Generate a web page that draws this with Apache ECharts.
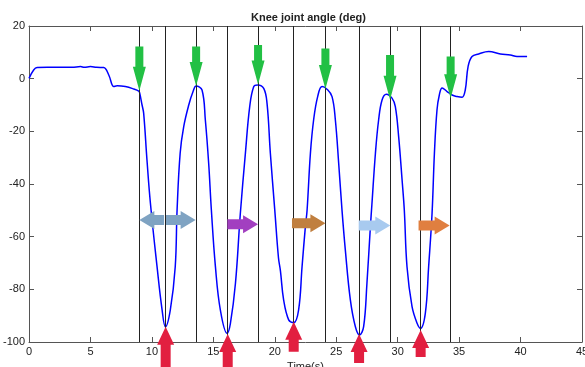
<!DOCTYPE html>
<html>
<head>
<meta charset="utf-8">
<script src="https://cdn.jsdelivr.net/npm/echarts@6/dist/echarts.min.js"></script>
<style>
html,body{margin:0;padding:0;background:#fff;}
#chart{width:585px;height:367px;}
</style>
</head>
<body>
<div id="chart"></div>
<script>
// ---- data ----
const timeValues = [0,0.38,0.66,1.5,2.5,3.5,4.2,4.5,5.0,5.5,6.08,6.49,6.9,7.17,7.84,8.52,8.93,9.0,9.2,9.33,9.6,9.88,10.42,10.83,11.1,11.5,11.9,12.05,12.3,12.59,13.0,13.35,13.6,14.08,14.35,14.62,14.84,15.17,15.57,16.12,16.39,16.8,17.2,17.61,17.96,18.29,18.6,19.1,19.37,19.64,20.0,20.3,20.46,20.72,21.13,21.54,21.94,22.22,22.49,22.63,22.9,23.16,23.49,23.85,24.25,24.66,24.93,25.2,25.47,25.74,26.15,26.56,26.9,27.23,27.5,27.78,27.9,28.19,28.45,28.73,29.08,29.54,29.81,30.08,30.36,30.54,30.76,31.17,31.58,31.85,32.25,32.52,32.8,32.99,33.2,33.39,33.62,34.02,34.43,34.83,35.24,35.5,35.73,36.05,36.59,37.41,38.36,39.17,39.71,40.53];
const angleValues = [0.1,3.3,4.2,4.3,4.3,4.3,4.6,4.3,4.6,4.3,4.2,1.4,-3.0,-2.7,-3.0,-3.9,-4.7,-5.3,-10,-13.1,-30.9,-47.3,-71.4,-87.8,-94.2,-87.8,-71.4,-49.9,-28.3,-18.2,-10,-4.9,-2.8,-4.3,-15.7,-32.1,-49.9,-71.4,-87.8,-96.7,-92.9,-77.7,-51,-28.3,-10.6,-3.0,-2.4,-3.7,-9.4,-28.3,-49.9,-68,-73,-84,-91.6,-92.7,-87.8,-71.4,-56.2,-49.9,-28.3,-15.7,-6.8,-3.0,-4.0,-6.8,-15.7,-32.1,-49.9,-65,-84,-94.2,-97.3,-94.2,-77.7,-56.2,-48,-28.3,-15.7,-8.1,-5.9,-7.4,-10.6,-22,-38.5,-49.9,-71.4,-86.6,-92.9,-94.8,-89.1,-71.4,-51,-28.3,-11.9,-6.2,-3.5,-4.9,-6.2,-6.8,-7.1,-4.3,4.6,8.4,9.4,10.3,9.4,9.0,8.4,8.4];
const eventLines = [8.98,11.12,13.60,16.17,18.64,21.54,24.12,26.86,29.38,31.87,34.31];
// green arrows (peaks): time, tip angle, tail angle
const peakArrowX = [8.98,13.60,18.64,24.12,29.38,34.31];
const peakArrowTip = [-4.6,-2.8,-2.2,-3.9,-8.0,-7.4];
const peakArrowTail = [12.2,12.2,12.8,11.5,9.0,8.4];
// red arrows (minima): time, tip angle, tail angle
const minArrowX = [11.12,16.17,21.54,26.86,31.87];
const minArrowTip = [-94.2,-97.0,-92.3,-97.0,-95.4];
const minArrowTail = [-112,-112,-103.7,-108,-105.7];
// horizontal arrows: tail time, tip time, angle
const hArrowTail = [10.99,11.15,16.14,21.40,26.83,31.70];
const hArrowTip = [8.98,13.56,18.64,24.12,29.40,34.23];
const hArrowY = [-53.7,-53.7,-55.3,-54.9,-55.8,-55.8];
const xTicks = {min:0,max:45,interval:5};
const yTicks = {min:-100,max:20,interval:20};

// ---- styles ----
const hArrowColors = ['#7fa3c2','#7fa3c2','#a23fc0','#c07f3f','#a8caef','#e07f40'];
const FONT = 'Liberation Sans, Arial, sans-serif';

const chart = echarts.init(document.getElementById('chart'));

const lineData = timeValues.map((t,i)=>[t, angleValues[i]]);

const axisCommon = {
  type:'value',
  splitLine:{show:false},
  axisLine:{show:true,onZero:false,lineStyle:{color:'#555',width:1}},
  axisTick:{show:true,inside:true,length:5,lineStyle:{color:'#555'}},
};

const option = {
  animation:false,
  backgroundColor:'#fff',
  title:{
    text:'Knee joint angle (deg)',
    left:246, top:7,
    textStyle:{fontFamily:FONT,fontSize:11,fontWeight:'bold',color:'#222'}
  },
  grid:{left:29,right:3,top:26,bottom:25,containLabel:false,outerBoundsMode:'none'},
  xAxis:[
    Object.assign({}, axisCommon, {
      min:xTicks.min,max:xTicks.max,interval:xTicks.interval,position:'bottom',
      axisLabel:{color:'#222',fontSize:11,fontFamily:FONT,margin:4},
      name:'Time(s)',nameLocation:'middle',nameGap:19,
      nameTextStyle:{color:'#222',fontSize:11,fontFamily:FONT}
    }),
    Object.assign({}, axisCommon, {
      min:xTicks.min,max:xTicks.max,interval:xTicks.interval,position:'top',
      axisLabel:{show:false}
    })
  ],
  yAxis:[
    Object.assign({}, axisCommon, {
      min:yTicks.min,max:yTicks.max,interval:yTicks.interval,position:'left',
      axisLabel:{color:'#222',fontSize:11,fontFamily:FONT,margin:4}
    }),
    Object.assign({}, axisCommon, {
      min:yTicks.min,max:yTicks.max,interval:yTicks.interval,position:'right',
      axisLabel:{show:false}
    })
  ],
  series:[
    {
      type:'line',
      data:lineData,
      xAxisIndex:0,yAxisIndex:0,
      showSymbol:false,
      smooth:0.4,
      lineStyle:{color:'#0000ff',width:1.5},
      z:3,
      markLine:{
        silent:true,
        symbol:['none','none'],
        label:{show:false},
        lineStyle:{color:'#222',width:1,type:'solid'},
        data:eventLines.map(v=>({xAxis:v}))
      }
    },
    {
      type:'custom',
      xAxisIndex:0,yAxisIndex:0,
      clip:false,
      z:5,
      data:peakArrowX.map((x,i)=>[x,peakArrowTip[i],peakArrowTail[i]]),
      renderItem:function(params,api){
        const tip = api.coord([api.value(0),api.value(1)]);
        const tail = api.coord([api.value(0),api.value(2)]);
        const sw=4, hw=6.5, hl=24;
        const x=tip[0];
        return {type:'polygon',shape:{points:[
          [x-sw,tail[1]],[x+sw,tail[1]],[x+sw,tip[1]-hl],[x+hw,tip[1]-hl],
          [x,tip[1]],[x-hw,tip[1]-hl],[x-sw,tip[1]-hl]
        ]},style:{fill:'#22c044'}};
      }
    },
    {
      type:'custom',
      xAxisIndex:0,yAxisIndex:0,
      clip:false,
      z:5,
      data:minArrowX.map((x,i)=>[x,minArrowTip[i],minArrowTail[i]]),
      renderItem:function(params,api){
        const tip = api.coord([api.value(0),api.value(1)]);
        const tail = api.coord([api.value(0),api.value(2)]);
        const sw=5, hw=8.5, hl=18;
        const x=tip[0];
        return {type:'polygon',shape:{points:[
          [x-sw,tail[1]],[x+sw,tail[1]],[x+sw,tip[1]+hl],[x+hw,tip[1]+hl],
          [x,tip[1]],[x-hw,tip[1]+hl],[x-sw,tip[1]+hl]
        ]},style:{fill:'#e21f40'}};
      }
    },
    {
      type:'custom',
      xAxisIndex:0,yAxisIndex:0,
      clip:false,
      z:5,
      data:hArrowTail.map((t,i)=>[t,hArrowTip[i],hArrowY[i],i]),
      renderItem:function(params,api){
        const tail = api.coord([api.value(0),api.value(2)]);
        const tip = api.coord([api.value(1),api.value(2)]);
        const idx = api.value(3);
        const dir = tip[0]>tail[0]?1:-1;
        const sh=5, hh=9, hl=15;
        const y=tip[1];
        const hb=tip[0]-dir*hl;
        return {type:'polygon',shape:{points:[
          [tail[0],y-sh],[hb,y-sh],[hb,y-hh],[tip[0],y],[hb,y+hh],[hb,y+sh],[tail[0],y+sh]
        ]},style:{fill:hArrowColors[idx]}};
      }
    }
  ]
};
chart.setOption(option);
</script>
</body>
</html>
